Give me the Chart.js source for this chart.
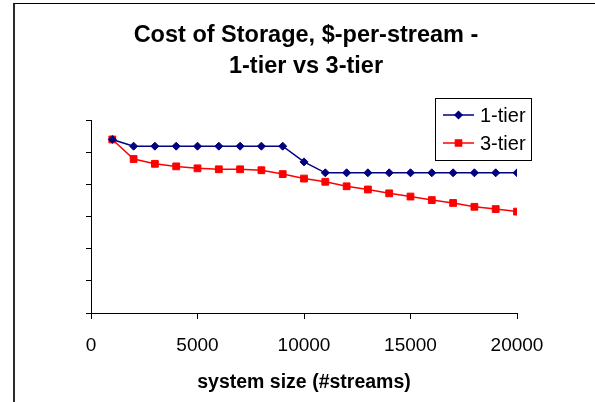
<!DOCTYPE html>
<html>
<head>
<meta charset="utf-8">
<script src="https://cdn.jsdelivr.net/npm/chart.js@4.4.0/dist/chart.umd.min.js"></script>
<style>
    html, body { margin: 0; padding: 0; background: #fff; overflow: hidden; }
    #wrap  { position: relative; width: 595px; height: 402px; }
    #frame { position: absolute; left: 13px; top: 3px; width: 600px; height: 420px;
             border-left: 2px solid #2a2a2a; border-top: 1px solid #000; pointer-events: none; }
    canvas { position: absolute; left: 0; top: 0; }
</style>
</head>
<body>
<div id="wrap">
    <canvas id="chart" width="595" height="402"></canvas>
    <div id="frame"></div>
</div>
<script>
// --- Data (y axis has no labels, so units are relative) ---

const streams  = [1000, 2000, 3000, 4000, 5000, 6000, 7000, 8000, 9000, 10000,
                  11000, 12000, 13000, 14000, 15000, 16000, 17000, 18000, 19000, 20000];
const oneTier  = [5.41, 5.20, 5.20, 5.20, 5.20, 5.20, 5.20, 5.20, 5.20, 4.71,
                  4.37, 4.37, 4.37, 4.37, 4.37, 4.37, 4.37, 4.37, 4.37, 4.37];
const threeTier = [5.41, 4.80, 4.65, 4.57, 4.51, 4.48, 4.48, 4.45, 4.33, 4.19,
                   4.09, 3.95, 3.85, 3.73, 3.63, 3.52, 3.43, 3.31, 3.24, 3.16];
const xTicks   = [0, 5000, 10000, 15000, 20000];
const seriesNames = ["1-tier", "3-tier"];

const FONT = "Arial, 'Liberation Sans', sans-serif";

const toPoints = vals => vals.map((v, i) => ({ x: streams[i], y: v }));

// --- Legend box (Excel style: line + marker) ---

const boxLegend = {
    id: "boxLegend",
    afterDraw(chart) {
        const ctx = chart.ctx;
        const left = 435, top = 98, w = 96, h = 62;
        ctx.save();
        ctx.fillStyle = "#fff";
        ctx.fillRect(left, top, w, h);
        ctx.strokeStyle = "#000";
        ctx.lineWidth = 1;
        ctx.strokeRect(left + 0.5, top + 0.5, w, h);

        chart.data.datasets.forEach((ds, i) => {
            const y = top + 17 + i * 28;
            ctx.strokeStyle = ds.borderColor;
            ctx.lineWidth = 1.5;
            ctx.beginPath();
            ctx.moveTo(443, y);
            ctx.lineTo(474, y);
            ctx.stroke();
            Chart.helpers.drawPoint(ctx, {
                pointStyle: ds.pointStyle,
                radius: ds.pointRadius - 0.5,
                borderWidth: 1
            }, 458.5, y);
            ctx.fillStyle = ds.pointBackgroundColor;
            ctx.fill();
            ctx.fillStyle = "#000";
            ctx.font = `20px ${FONT}`;
            ctx.textBaseline = "middle";
            ctx.fillText(ds.label, 480, y + 1);
        });
        ctx.restore();
    }
};

// --- Chart ---

const ctx = document.getElementById("chart").getContext("2d");

new Chart(ctx, {
    type: "line",
    data: {
        datasets: [
            {
                label: seriesNames[0],
                data: toPoints(oneTier),
                borderColor: "#000080",
                backgroundColor: "#000080",
                pointBackgroundColor: "#000080",
                pointBorderColor: "#000080",
                pointStyle: "rectRot",
                pointRadius: 4,
                pointBorderWidth: 1,
                borderWidth: 1.5,
                tension: 0
            },
            {
                label: seriesNames[1],
                data: toPoints(threeTier),
                borderColor: "#ff0000",
                backgroundColor: "#ff0000",
                pointBackgroundColor: "#ff0000",
                pointBorderColor: "#ff0000",
                pointStyle: "rect",
                pointRadius: 4.8,
                pointBorderWidth: 1,
                borderWidth: 1.5,
                tension: 0
            }
        ]
    },
    options: {
        responsive: false,
        animation: false,
        events: [],
        layout: { padding: { left: 17, right: 0, top: 0, bottom: 8 } },
        plugins: {
            legend: { display: false },
            tooltip: { enabled: false },
            title: {
                display: true,
                text: ["Cost of Storage, $-per-stream -", "1-tier vs 3-tier"],
                color: "#000",
                font: { family: FONT, size: 23.5, weight: "bold", lineHeight: 1.33 },
                padding: { top: 20, bottom: 38 }
            }
        },
        scales: {
            x: {
                type: "linear",
                min: 0,
                max: 20000,
                afterBuildTicks: scale => { scale.ticks = xTicks.map(v => ({ value: v })); },
                afterFit: scale => { scale.height = 81; },
                border: { color: "#000", width: 1 },
                grid: { drawOnChartArea: false, drawTicks: true, tickLength: 6, color: "#000" },
                ticks: {
                    color: "#000",
                    font: { family: FONT, size: 19 },
                    padding: 15,
                    maxRotation: 0,
                    callback: v => String(v)
                },
                title: {
                    display: true,
                    text: "system size (#streams)",
                    color: "#000",
                    font: { family: FONT, size: 19.5, weight: "bold" },
                    padding: { top: 0, bottom: 0 }
                }
            },
            y: {
                min: 0,
                max: 6,
                afterFit: scale => { scale.width = 74; },
                border: { color: "#000", width: 1 },
                grid: { drawOnChartArea: false, drawTicks: true, tickLength: 5, color: "#000" },
                ticks: { display: false, stepSize: 1 }
            },
            // empty right-hand box, only reserves the space right of the plot
            spacer: {
                axis: "y",
                position: "right",
                min: 0,
                max: 6,
                afterFit: scale => { scale.width = 78; },
                border: { display: false },
                grid: { display: false },
                ticks: { display: false }
            }
        }
    },
    plugins: [boxLegend]
});
</script>
</body>
</html>
